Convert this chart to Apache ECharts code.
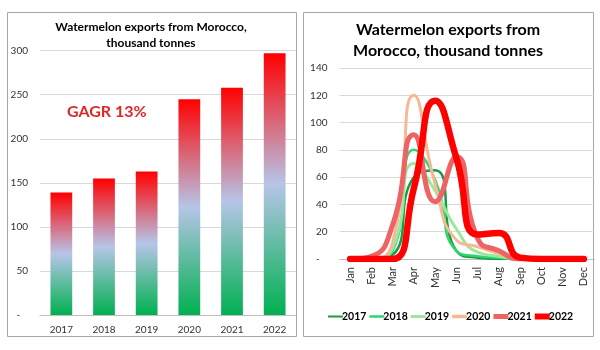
<!DOCTYPE html>
<html>
<head>
<meta charset="utf-8">
<script src="https://cdn.jsdelivr.net/npm/echarts@6/dist/echarts.min.js"></script>
<style>
  html, body { margin: 0; padding: 0; background: #fff; }
  #chart { width: 600px; height: 350px; }
</style>
</head>
<body>
<div id="chart"></div>
<script>
// yearly totals, thousand tonnes
const years = ['2017', '2018', '2019', '2020', '2021', '2022'];
const yearTotals = [139, 155, 163, 245, 258, 297];

// monthly exports per season
const months = ['Jan', 'Feb', 'Mar', 'Apr', 'May', 'Jun', 'Jul', 'Aug', 'Sep', 'Oct', 'Nov', 'Dec'];
const m2017 = [0, 0, 3, 60, 65, 6, 1, 0, 0, 0, 0, 0];
const m2018 = [0, 0, 6, 80, 58, 6, 2, 1, 0, 0, 0, 0];
const m2019 = [0, 0, 8, 70, 50, 22, 5, 2, 0, 0, 0, 0];
const m2020 = [0, 0, 12, 120, 55, 14, 9, 4, 0, 0, 0, 0];
const m2021 = [0, 2, 25, 91, 42, 75, 15, 6, 0, 0, 0, 0];
const m2022 = [0, 0, 0, 52, 116, 74, 18, 19, 1, 0, 0, 0];

const FONT = 'Lato';
const dashZero = (v) => (v === 0 ? '-   ' : String(v));

const lineSeries = (name, data, color, width) => ({
  name,
  type: 'line',
  xAxisIndex: 1,
  yAxisIndex: 1,
  data,
  smooth: 0.55,
  symbol: 'none',
  lineStyle: { color, width, cap: 'round', join: 'round' },
  itemStyle: { color },
});

// legend swatch: a flat bar as thick as the series line
const swatch = (name, thick) => ({ name, icon: 'path://M0,0H15V' + thick + 'H0Z' });

const chart = echarts.init(document.getElementById('chart'));
chart.setOption({
  animation: false,
  backgroundColor: '#fff',
  textStyle: { fontFamily: FONT },
  graphic: [
    { type: 'rect', shape: { x: 7.5, y: 12.5, width: 289, height: 324 }, style: { fill: 'none', stroke: '#a6a6a6', lineWidth: 1 }, z: -1 },
    { type: 'rect', shape: { x: 303.5, y: 12.5, width: 290, height: 324 }, style: { fill: 'none', stroke: '#a6a6a6', lineWidth: 1 }, z: -1 },
  ],
  title: [
    {
      text: 'Watermelon exports from Morocco,\nthousand tonnes',
      left: 151, top: 19, padding: 0, textAlign: 'center',
      textStyle: { fontFamily: FONT, fontSize: 12, fontWeight: 'bold', color: '#000', lineHeight: 16 },
    },
    {
      text: 'Watermelon exports from\nMorocco, thousand tonnes',
      left: 448, top: 19, padding: 0, textAlign: 'center',
      textStyle: { fontFamily: FONT, fontSize: 16, fontWeight: 'bold', color: '#000', lineHeight: 21 },
    },
    {
      text: 'GAGR 13%',
      left: 67, top: 104, padding: 0,
      textStyle: { fontFamily: FONT, fontSize: 16, fontWeight: 'bold', color: '#e0262a' },
    },
  ],
  legend: {
    data: [swatch('2017', 2), swatch('2018', 2.5), swatch('2019', 3), swatch('2020', 3.5), swatch('2021', 5), swatch('2022', 6)],
    left: 328, top: 311, padding: 0,
    itemWidth: 15, itemHeight: 8, itemGap: 3,
    textStyle: { fontFamily: FONT, fontSize: 10.5, fontWeight: 'bold', color: '#000', padding: [0, 0, 0, -6] },
  },
  grid: [
    { left: 40, right: 304, top: 50.7, bottom: 35 },
    { left: 339.5, right: 5.5, top: 68, bottom: 91 },
  ],
  xAxis: [
    {
      type: 'category', gridIndex: 0, data: years,
      axisLine: { lineStyle: { color: '#bfbfbf' } },
      axisTick: { show: false },
      axisLabel: { color: '#333', fontSize: 10, fontFamily: FONT, margin: 10 },
    },
    {
      type: 'category', gridIndex: 1, data: months,
      axisLine: { lineStyle: { color: '#bfbfbf' } },
      axisTick: { show: false },
      axisLabel: { color: '#333', fontSize: 11, fontFamily: FONT, rotate: 90, margin: 8, interval: 0 },
    },
  ],
  yAxis: [
    {
      type: 'value', gridIndex: 0, min: 0, max: 300, interval: 50,
      axisLine: { show: false }, axisTick: { show: false },
      splitLine: { lineStyle: { color: '#d9d9d9' } },
      axisLabel: { color: '#333', fontSize: 10, fontFamily: FONT, margin: 12, formatter: dashZero },
    },
    {
      type: 'value', gridIndex: 1, min: 0, max: 140, interval: 20,
      axisLine: { show: false }, axisTick: { show: false },
      splitLine: { lineStyle: { color: '#d9d9d9' } },
      axisLabel: { color: '#333', fontSize: 10, fontFamily: FONT, margin: 12, formatter: dashZero },
    },
  ],
  series: [
    {
      name: 'total',
      type: 'bar',
      xAxisIndex: 0,
      yAxisIndex: 0,
      data: yearTotals,
      barWidth: '51%',
      itemStyle: {
        color: new echarts.graphic.LinearGradient(0, 0, 0, 1, [
          { offset: 0, color: '#ff0000' },
          { offset: 0.5, color: '#b6c5e8' },
          { offset: 1, color: '#00b050' },
        ]),
      },
    },
    lineSeries('2017', m2017, '#1a9a46', 2.5),
    lineSeries('2018', m2018, '#2ed573', 2.5),
    lineSeries('2019', m2019, '#9be89b', 3),
    lineSeries('2020', m2020, '#f5b996', 3),
    lineSeries('2021', m2021, '#ee6464', 5),
    lineSeries('2022', m2022, '#ff0000', 6.5),
  ],
});
</script>
</body>
</html>
